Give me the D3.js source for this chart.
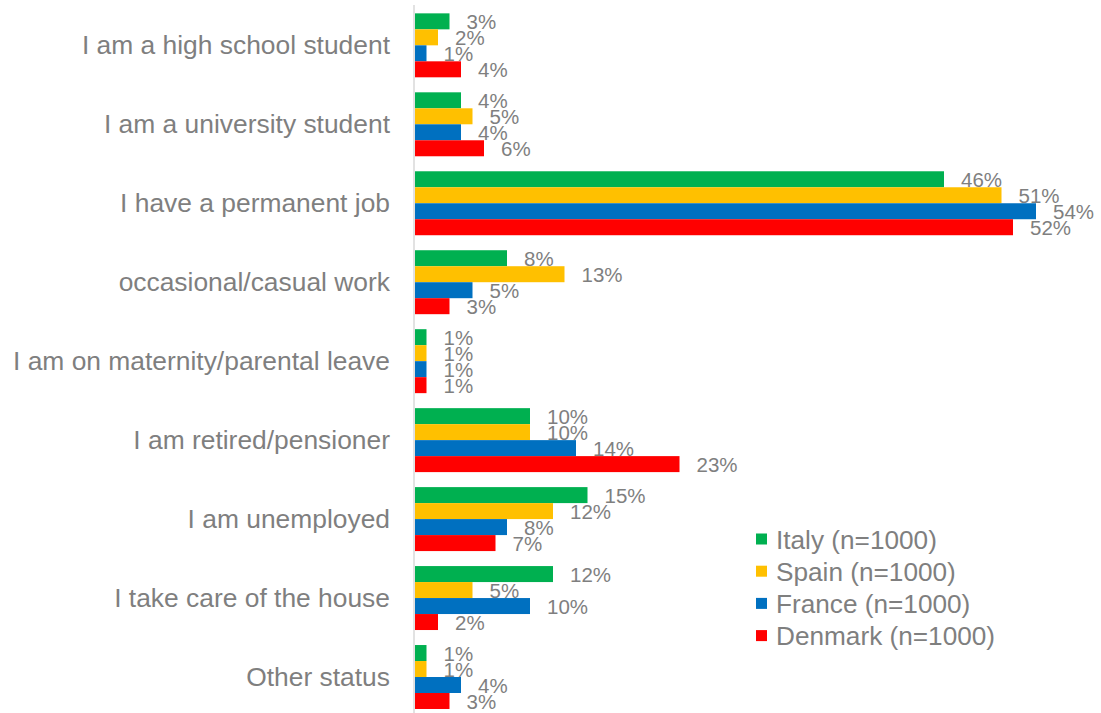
<!DOCTYPE html>
<html>
<head>
<meta charset="utf-8">
<script src="https://cdn.jsdelivr.net/npm/d3@7"></script>
<style>
  html, body { margin: 0; padding: 0; background: #ffffff; }
  svg { display: block; font-family: "Liberation Sans", Arial, sans-serif; }
</style>
</head>
<body>
<svg id="chart" width="1101" height="713"></svg>
<script>
// Employment status by country (share of respondents, %)
const categories = [
  "I am a high school student",
  "I am a university student",
  "I have a permanent job",
  "occasional/casual work",
  "I am on maternity/parental leave",
  "I am retired/pensioner",
  "I am unemployed",
  "I take care of the house",
  "Other status"
];

const seriesNames = ["Italy (n=1000)", "Spain (n=1000)", "France (n=1000)", "Denmark (n=1000)"];
const seriesColors = ["#00B050", "#FFC000", "#0070C0", "#FF0000"];

const italy   = [3, 4, 46, 8, 1, 10, 15, 12, 1];
const spain   = [2, 5, 51, 13, 1, 10, 12, 5, 1];
const france  = [1, 4, 54, 5, 1, 14, 8, 10, 4];
const denmark = [4, 6, 52, 3, 1, 23, 7, 2, 3];

const seriesValues = [italy, spain, france, denmark];

const rows = categories.map((c, i) => ({
  category: c,
  values: seriesNames.map((s, k) => ({ series: s, value: seriesValues[k][i], color: seriesColors[k] }))
}));

const svg = d3.select("#chart");
const textColor = "#7f7f7f";

const x0 = 415;
const x = d3.scaleLinear().domain([0, 54]).range([x0, 1036]);

const y = d3.scaleBand()
  .domain(categories)
  .range([5.85, 5.85 + 9 * 78.96])
  .paddingInner(0.19)
  .paddingOuter(0.095);

const ySub = d3.scaleBand()
  .domain(seriesNames)
  .range([0, y.bandwidth()]);

// vertical category axis line
svg.append("line")
  .attr("x1", x0 - 1).attr("x2", x0 - 1)
  .attr("y1", 5).attr("y2", 713)
  .attr("stroke", "#d9d9d9")
  .attr("stroke-width", 1.5);

// category labels
svg.append("g")
  .selectAll("text")
  .data(categories)
  .join("text")
  .attr("x", 390)
  .attr("y", d => y(d) + y.bandwidth() / 2 + 9)
  .attr("text-anchor", "end")
  .attr("font-size", 26.4)
  .attr("fill", textColor)
  .text(d => d);

// bars and value labels
const groups = svg.append("g")
  .selectAll("g")
  .data(rows)
  .join("g")
  .attr("transform", d => `translate(0,${y(d.category)})`);

groups.selectAll("rect")
  .data(d => d.values)
  .join("rect")
  .attr("x", x0)
  .attr("y", d => ySub(d.series))
  .attr("width", d => x(d.value) - x0)
  .attr("height", ySub.bandwidth())
  .attr("fill", d => d.color);

groups.selectAll("text")
  .data(d => d.values)
  .join("text")
  .attr("x", d => x(d.value) + 17)
  .attr("y", d => ySub(d.series) + ySub.bandwidth() / 2 + 8)
  .attr("font-size", 20.5)
  .attr("fill", textColor)
  .text(d => d.value + "%");

// legend
const legend = svg.append("g")
  .selectAll("g")
  .data(seriesNames)
  .join("g")
  .attr("transform", (d, i) => `translate(756,${539 + i * 32.2})`);

legend.append("rect")
  .attr("x", 0).attr("y", -5.5)
  .attr("width", 11).attr("height", 11)
  .attr("fill", (d, i) => seriesColors[i]);

legend.append("text")
  .attr("x", 20)
  .attr("y", 9.5)
  .attr("font-size", 26.2)
  .attr("fill", textColor)
  .text(d => d);
</script>
</body>
</html>
